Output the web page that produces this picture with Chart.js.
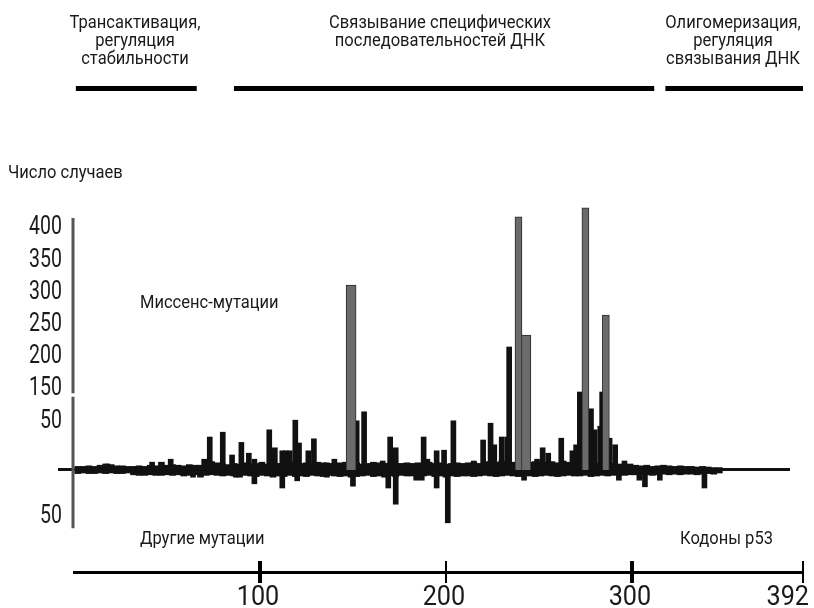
<!DOCTYPE html>
<html lang="ru">
<head>
<meta charset="utf-8">
<script src="https://cdn.jsdelivr.net/npm/chart.js@4.4.1/dist/chart.umd.min.js"></script>
<style>
  html, body { margin: 0; padding: 0; background: #fff; }
  #wrap { position: relative; width: 814px; height: 608px; overflow: hidden; }
  #chart { position: absolute; left: 0; top: 0; }
  .note { position: absolute; font-family: 'Roboto', sans-serif; font-size: 19px; line-height: 18px; color: #1a1a1a; white-space: nowrap;
          transform-origin: left top; transform: scaleX(0.87); }
  .center { text-align: center; transform-origin: center top; transform: translateX(-50%) scaleX(0.87); }
</style>
</head>
<body>
<div id="wrap">
  <canvas id="chart" width="814" height="608"></canvas>
  <div class="note center" style="left:135px; top:13px">Трансактивация,<br>регуляция<br>стабильности</div>
  <div class="note center" style="left:440px; top:13px">Связывание специфических<br>последовательностей ДНК</div>
  <div class="note center" style="left:733px; top:13px">Олигомеризация,<br>регуляция<br>связывания ДНК</div>
  <div class="note" style="left:8px; top:163px">Число случаев</div>
  <div class="note" style="left:140px; top:293px">Миссенс-мутации</div>
  <div class="note" style="left:140px; top:529px">Другие мутации</div>
  <div class="note" style="left:680px; top:529px">Кодоны р53</div>
</div>
<script>
// protein domains (codon ranges) drawn as bars under the headings
const domainStart = [1, 86, 318];
const domainEnd = [66, 312, 392];

// axis ticks
const xTicks = [100, 200, 300, 392];
const yTickAt = [405, 350, 297, 243, 190, 137, 82, -77];
const yTickLabels = ['400', '350', '300', '250', '200', '150', '50', '50'];

// low background level of mutations, every 3rd codon
const bandCodons = [
    2, 5, 8, 11, 14, 17, 20, 23, 26, 29,
    32, 35, 38, 41, 44, 47, 50, 53, 56, 59,
    62, 65, 68, 71, 74, 77, 80, 83, 86, 89,
    92, 95, 98, 101, 104, 107, 110, 113, 116, 119,
    122, 125, 128, 131, 134, 137, 140, 143, 146, 149,
    152, 155, 158, 161, 164, 167, 170, 173, 176, 179,
    182, 185, 188, 191, 194, 197, 200, 203, 206, 209,
    212, 215, 218, 221, 224, 227, 230, 233, 236, 239,
    242, 245, 248, 251, 254, 257, 260, 263, 266, 269,
    272, 275, 278, 281, 284, 287, 290, 293, 296, 299,
    302, 305, 308, 311, 314, 317, 320, 323, 326, 329,
    332, 335, 338, 341, 344, 347
];
const bandMissense = [
    6, 6, 7, 6, 8, 10, 9, 7, 7, 6,
    6, 7, 6, 8, 7, 13, 8, 9, 8, 7,
    9, 8, 8, 10, 14, 12, 10, 9, 11, 10,
    12, 10, 11, 13, 10, 12, 11, 14, 12, 13,
    11, 12, 10, 13, 12, 11, 10, 12, 13, 11,
    12, 10, 11, 13, 12, 11, 12, 10, 11, 12,
    11, 12, 10, 13, 11, 12, 10, 11, 12, 11,
    12, 13, 11, 14, 12, 13, 15, 14, 13, 14,
    15, 13, 14, 12, 13, 14, 12, 15, 13, 14,
    14, 13, 12, 11, 13, 12, 11, 10, 9, 10,
    8, 7, 8, 6, 7, 8, 7, 6, 7, 6,
    6, 5, 6, 5, 4, 4
];
const bandOther = [
    6, 5, 6, 6, 5, 6, 5, 6, 6, 5,
    8, 9, 9, 8, 9, 9, 8, 9, 8, 10,
    9, 8, 12, 9, 8, 9, 10, 9, 10, 12,
    9, 10, 11, 9, 10, 12, 10, 11, 9, 11,
    10, 11, 9, 10, 11, 9, 10, 11, 10, 12,
    11, 10, 9, 11, 10, 12, 10, 11, 9, 10,
    10, 11, 10, 9, 11, 10, 12, 10, 11, 10,
    10, 11, 10, 9, 10, 11, 10, 9, 10, 11,
    9, 10, 11, 10, 9, 10, 11, 10, 9, 10,
    10, 9, 11, 10, 9, 10, 9, 8, 9, 8,
    8, 7, 8, 9, 8, 7, 8, 7, 8, 7,
    7, 8, 7, 6, 7, 5
];

// missense mutations, single codons above the background
const missenseCodons = [18, 42, 52, 70, 73, 80, 85, 90, 94, 97, 105, 108, 112, 114, 116, 119, 121, 126, 129, 136,
    140, 152, 156, 166, 170, 173, 188, 190, 195, 199, 204, 215, 220, 224, 226, 230, 233, 234, 249, 252,
    255, 262, 268, 270, 272, 278, 280, 283, 284, 288, 291, 296];
const missenseCounts = [10, 13, 18, 18, 55, 63, 25, 46, 28, 18, 67, 37, 32, 32, 32, 83, 45, 32, 52, 12,
    18, 82, 97, 15, 55, 37, 55, 18, 32, 33, 82, 15, 50, 78, 42, 55, 55, 205, 18, 37,
    28, 53, 32, 42, 130, 102, 67, 73, 130, 53, 42, 15];

// missense hotspots (grey bars)
const hotspotCodons = [239, 275, 286];
const hotspotCounts = [422, 437, 258];
const wideHotspotCodons = [149, 243];
const wideHotspotCounts = [308, 225];

// other mutations (drawn below the axis)
const otherCodons = [64, 87, 97, 112, 120, 136, 150, 169, 173, 184, 187, 195, 201, 242, 293, 304, 307, 315, 339];
const otherCounts = [12, 12, 23, 30, 18, 12, 27, 30, 57, 17, 17, 30, 88, 17, 17, 17, 28, 17, 30];

const pts = (xs, ys, sign) => xs.map((c, i) => ({ x: c, y: sign * ys[i] }));

// narrow tick text, like the condensed face of the original figure
function narrowText(c, txt, px, py, sx) {
    c.save();
    c.translate(px, py);
    c.scale(sx, 1);
    c.fillText(txt, 0, 0);
    c.restore();
}

const drawExtras = {
    id: 'drawExtras',
    beforeDatasetsDraw(chart) {
        const c = chart.ctx, x = chart.scales.x, y = chart.scales.y;
        const y0 = Math.round(y.getPixelForValue(0));
        c.save();
        c.fillStyle = '#111';
        c.fillRect(58, y0 - 2, x.getPixelForValue(385) - 58, 3);
        c.restore();
    },
    afterDatasetsDraw(chart) {
        const c = chart.ctx, x = chart.scales.x, y = chart.scales.y, a = chart.chartArea;
        c.save();
        // vertical count axis with a break
        const ax = a.left - 1;
        c.strokeStyle = '#555';
        c.lineWidth = 3;
        c.beginPath();
        c.moveTo(ax, y.getPixelForValue(420));
        c.lineTo(ax, y.getPixelForValue(128));
        c.moveTo(ax, y.getPixelForValue(122));
        c.lineTo(ax, y.getPixelForValue(-97));
        c.stroke();
        // domain bars
        c.fillStyle = '#000';
        domainStart.forEach((s, i) => {
            const x1 = x.getPixelForValue(s), x2 = x.getPixelForValue(domainEnd[i]);
            c.fillRect(x1, 86, x2 - x1, 5);
        });
        // codon ticks crossing the bottom axis
        xTicks.forEach((t, i) => {
            const px = Math.round(x.getPixelForValue(t));
            const w = (i % 2 === 0) ? 4 : 2;
            c.fillRect(px - w / 2, a.bottom - 11, w, 22);
        });
        // tick labels
        c.fillStyle = '#1a1a1a';
        c.font = '25px Roboto, sans-serif';
        c.textAlign = 'right';
        c.textBaseline = 'middle';
        yTickAt.forEach((v, i) => narrowText(c, yTickLabels[i], 62, y.getPixelForValue(v) + 1, 0.78));
        c.font = '28px Roboto, sans-serif';
        c.textAlign = 'center';
        c.textBaseline = 'alphabetic';
        xTicks.forEach(t => {
            const half = c.measureText(String(t)).width * 0.45;
            const cx = Math.min(x.getPixelForValue(t) - 2, chart.width - 5 - half);
            narrowText(c, String(t), cx, 605, 0.9);
        });
        c.restore();
    }
};

new Chart(document.getElementById('chart'), {
    type: 'bar',
    data: {
        datasets: [{
            label: 'Горячие точки',
            data: pts(hotspotCodons, hotspotCounts, 1),
            backgroundColor: '#6b6b6b',
            borderColor: '#2a2a2a',
            borderWidth: 1,
            barThickness: 7,
            clip: false
        }, {
            label: 'Горячие точки (широкие)',
            data: pts(wideHotspotCodons, wideHotspotCounts, 1),
            backgroundColor: '#6b6b6b',
            borderColor: '#2a2a2a',
            borderWidth: 1,
            barThickness: 10,
            clip: false
        }, {
            label: 'Миссенс-мутации',
            data: pts(missenseCodons, missenseCounts, 1),
            backgroundColor: '#111',
            barThickness: 5
        }, {
            label: 'Другие мутации',
            data: pts(otherCodons, otherCounts, -1),
            backgroundColor: '#111',
            barThickness: 5
        }, {
            label: 'Фон (миссенс)',
            data: pts(bandCodons, bandMissense, 1),
            backgroundColor: '#111',
            barThickness: 6
        }, {
            label: 'Фон (другие)',
            data: pts(bandCodons, bandOther, -1),
            backgroundColor: '#111',
            barThickness: 6
        }]
    },
    options: {
        responsive: false,
        animation: false,
        datasets: { bar: { grouped: false } },
        layout: { padding: { top: 218, right: 11, bottom: 0, left: 0 } },
        plugins: {
            legend: { display: false },
            tooltip: { enabled: false }
        },
        scales: {
            x: {
                type: 'linear',
                min: 0,
                max: 392,
                offset: false,
                grid: { display: false, drawTicks: false },
                border: { display: true, color: '#000', width: 3 },
                afterBuildTicks: s => { s.ticks = xTicks.map(v => ({ value: v })); },
                afterFit: s => { s.height = 36; s.paddingLeft = 0; s.paddingRight = 0; },
                ticks: { display: false }
            },
            y: {
                min: -170,
                max: 420,
                grid: { display: false, drawTicks: false },
                border: { display: false },
                afterBuildTicks: s => { s.ticks = yTickAt.map(v => ({ value: v })); },
                afterFit: s => { s.width = 74; s.paddingTop = 0; s.paddingBottom = 0; },
                ticks: { display: false }
            }
        }
    },
    plugins: [drawExtras]
});
</script>
</body>
</html>
